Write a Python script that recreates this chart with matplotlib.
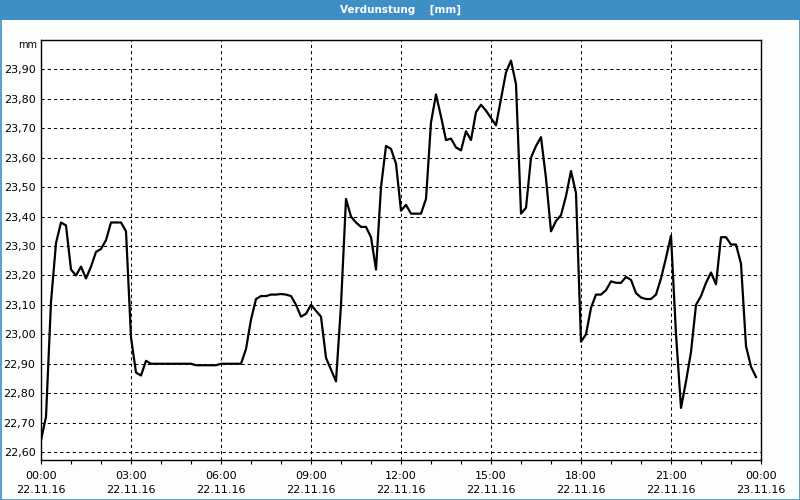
import matplotlib.pyplot as plt
import matplotlib.patches as mpatches
import numpy as np
import pandas as pd

# Verdunstung, 10-Minuten-Werte ab 22.11.16 00:00
start = '2016-11-22 00:00'
values = [
    22.64, 22.72, 23.11, 23.31, 23.38, 23.37, 23.22, 23.20, 23.23, 23.19,
    23.23, 23.28, 23.29, 23.32, 23.38, 23.38, 23.38, 23.35, 22.99, 22.87,
    22.86, 22.91, 22.90, 22.90, 22.90, 22.90, 22.90, 22.90, 22.90, 22.90,
    22.90, 22.895, 22.895, 22.895, 22.895, 22.895, 22.90, 22.90, 22.90, 22.90,
    22.90, 22.95, 23.05, 23.12, 23.13, 23.13, 23.135, 23.135, 23.137, 23.135,
    23.13, 23.10, 23.06, 23.07, 23.10, 23.08, 23.06, 22.92, 22.88, 22.84,
    23.10, 23.46, 23.40, 23.38, 23.365, 23.365, 23.33, 23.22, 23.50, 23.64,
    23.63, 23.58, 23.42, 23.44, 23.41, 23.41, 23.41, 23.46, 23.72, 23.815,
    23.74, 23.66, 23.665, 23.635, 23.625, 23.69, 23.66, 23.755, 23.78, 23.76,
    23.735, 23.71, 23.80, 23.89, 23.93, 23.85, 23.41, 23.43, 23.60, 23.64,
    23.67, 23.53, 23.35, 23.385, 23.405, 23.47, 23.555, 23.48, 22.975, 23.00,
    23.09, 23.135, 23.135, 23.15, 23.18, 23.175, 23.175, 23.195, 23.185, 23.14,
    23.125, 23.12, 23.12, 23.135, 23.19, 23.26, 23.335, 23.00, 22.75, 22.84,
    22.94, 23.10, 23.13, 23.175, 23.21, 23.17, 23.33, 23.33, 23.305, 23.305,
    23.24, 22.96, 22.89, 22.855,
]
ytick_vals = [22.6, 22.7, 22.8, 22.9, 23.0, 23.1, 23.2, 23.3, 23.4, 23.5, 23.6, 23.7, 23.8, 23.9]
xtick_labels = ['00:00\n22.11.16', '03:00\n22.11.16', '06:00\n22.11.16', '09:00\n22.11.16',
                '12:00\n22.11.16', '15:00\n22.11.16', '18:00\n22.11.16', '21:00\n22.11.16',
                '00:00\n23.11.16']
title = 'Verdunstung    [mm]'

times = pd.date_range(start, periods=len(values), freq='10min')
hours = (times - times[0]).total_seconds() / 3600.0

plt.rcParams['font.family'] = ['DejaVu Sans']
fig = plt.figure(figsize=(8, 5), dpi=100, facecolor='#fbfefb')

# title bar and blue border
fig.patches.append(mpatches.Rectangle((0, 1 - 20 / 500), 1, 20 / 500, transform=fig.transFigure,
                                      facecolor='#3d8fc6', edgecolor='none', zorder=0))
fig.patches.append(mpatches.Rectangle((0.5 / 800, 0.5 / 500), 1 - 1 / 800, 1 - 1 / 500,
                                      transform=fig.transFigure, facecolor='none',
                                      edgecolor='#3d8fc6', linewidth=1.2, zorder=0))
fig.text(0.5, 1 - 10 / 500, title, color='white', fontsize=7.5, fontweight='bold',
         ha='center', va='center')

ax = fig.add_axes([41 / 800, 40 / 500, 720 / 800, 420 / 500])
ax.set_facecolor('white')
ax.plot(hours, values, color='black', linewidth=1.6, zorder=3)

ax.set_xlim(0, 24)
ax.set_ylim(22.573, 24.0)
ax.set_xticks(np.arange(0, 25, 3))
ax.set_xticks(np.arange(0, 25, 1), minor=True)
ax.set_xticklabels(xtick_labels, fontsize=8, linespacing=1.45)
ax.set_yticks(ytick_vals)
ax.set_yticklabels([f'{v:.2f}'.replace('.', ',') for v in ytick_vals], fontsize=8)
ax.tick_params(axis='x', which='both', direction='out', length=3, width=0.8, pad=5)
ax.tick_params(axis='y', length=0, pad=4)

ax.grid(True, which='major', color='black', linestyle=(0, (3, 3)), linewidth=0.75)
for spine in ax.spines.values():
    spine.set_linewidth(1.0)
    spine.set_zorder(4)

ax.text(-0.006, 1.0, 'mm', transform=ax.transAxes, fontsize=7, ha='right', va='top')

fig.savefig('out.png', dpi=100, facecolor=fig.get_facecolor())
